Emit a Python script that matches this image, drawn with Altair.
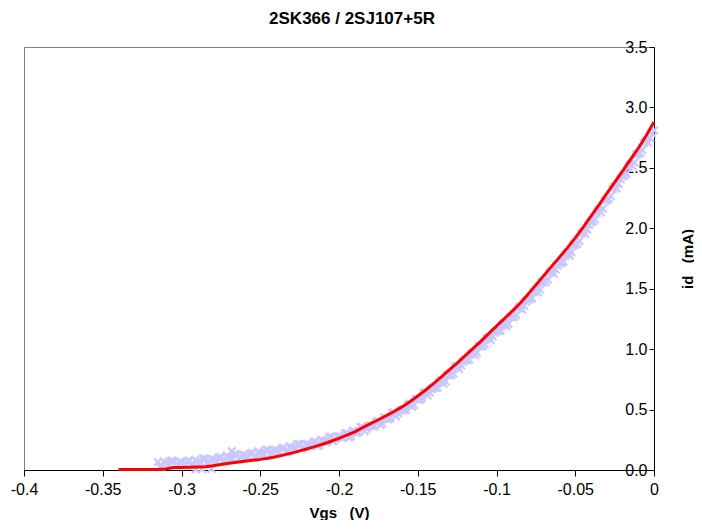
import altair as alt
import pandas as pd

# Measured points (blue x markers), first sweep
meas_vgs = [
    -0.3150, -0.3125, -0.3100, -0.3075, -0.3050, -0.3025, -0.3000, -0.2975, -0.2950, -0.2925,
    -0.2900, -0.2875, -0.2850, -0.2825, -0.2800, -0.2775, -0.2750, -0.2725, -0.2700, -0.2675,
    -0.2650, -0.2625, -0.2600, -0.2575, -0.2550, -0.2525, -0.2500, -0.2475, -0.2450, -0.2425,
    -0.2400, -0.2375, -0.2350, -0.2325, -0.2300, -0.2275, -0.2250, -0.2225, -0.2200, -0.2175,
    -0.2150, -0.2125, -0.2100, -0.2075, -0.2050, -0.2025, -0.2000, -0.1975, -0.1950, -0.1925,
    -0.1900, -0.1875, -0.1850, -0.1825, -0.1800, -0.1775, -0.1750, -0.1725, -0.1700, -0.1675,
    -0.1650, -0.1625, -0.1600, -0.1575, -0.1550, -0.1525, -0.1500, -0.1475, -0.1450, -0.1425,
    -0.1400, -0.1375, -0.1350, -0.1325, -0.1300, -0.1275, -0.1250, -0.1225, -0.1200, -0.1175,
    -0.1150, -0.1125, -0.1100, -0.1075, -0.1050, -0.1025, -0.1000, -0.0975, -0.0950, -0.0925,
    -0.0900, -0.0875, -0.0850, -0.0825, -0.0800, -0.0775, -0.0750, -0.0725, -0.0700, -0.0675,
    -0.0650, -0.0625, -0.0600, -0.0575, -0.0550, -0.0525, -0.0500, -0.0475, -0.0450, -0.0425,
    -0.0400, -0.0375, -0.0350, -0.0325, -0.0300, -0.0275, -0.0250, -0.0225, -0.0200, -0.0175,
    -0.0150, -0.0125, -0.0100, -0.0075, -0.0050, -0.0025, 0.0000,
    -0.2680, -0.2910, -0.2870, -0.2810,
]
meas_id = [
    0.065, 0.031, 0.057, 0.042, 0.073, 0.049, 0.065, 0.042, 0.075, 0.042,
    0.070, 0.059, 0.092, 0.071, 0.090, 0.070, 0.105, 0.075, 0.105, 0.094,
    0.128, 0.106, 0.125, 0.105, 0.140, 0.110, 0.140, 0.130, 0.165, 0.145,
    0.165, 0.146, 0.183, 0.154, 0.185, 0.176, 0.213, 0.194, 0.215, 0.198,
    0.235, 0.208, 0.240, 0.234, 0.273, 0.256, 0.280, 0.265, 0.305, 0.280,
    0.315, 0.313, 0.355, 0.343, 0.370, 0.360, 0.405, 0.385, 0.425, 0.428,
    0.475, 0.468, 0.500, 0.498, 0.550, 0.538, 0.585, 0.593, 0.645, 0.643,
    0.680, 0.683, 0.740, 0.733, 0.785, 0.800, 0.860, 0.865, 0.910, 0.915,
    0.975, 0.970, 1.025, 1.040, 1.100, 1.105, 1.150, 1.155, 1.215, 1.210,
    1.265, 1.285, 1.350, 1.360, 1.410, 1.423, 1.490, 1.493, 1.555, 1.578,
    1.645, 1.658, 1.710, 1.725, 1.795, 1.800, 1.865, 1.895, 1.970, 1.990,
    2.050, 2.073, 2.150, 2.163, 2.235, 2.268, 2.345, 2.368, 2.430, 2.453,
    2.530, 2.543, 2.615, 2.648, 2.725, 2.748, 2.810,
    0.155, 0.006, 0.008, 0.010,
]

# Measured points, second sweep
meas2_vgs = [
    -0.31375, -0.31125, -0.30875, -0.30625, -0.30375, -0.30125, -0.29875, -0.29625, -0.29375, -0.29125,
    -0.28875, -0.28625, -0.28375, -0.28125, -0.27875, -0.27625, -0.27375, -0.27125, -0.26875, -0.26625,
    -0.26375, -0.26125, -0.25875, -0.25625, -0.25375, -0.25125, -0.24875, -0.24625, -0.24375, -0.24125,
    -0.23875, -0.23625, -0.23375, -0.23125, -0.22875, -0.22625, -0.22375, -0.22125, -0.21875, -0.21625,
    -0.21375, -0.21125, -0.20875, -0.20625, -0.20375, -0.20125, -0.19875, -0.19625, -0.19375, -0.19125,
    -0.18875, -0.18625, -0.18375, -0.18125, -0.17875, -0.17625, -0.17375, -0.17125, -0.16875, -0.16625,
    -0.16375, -0.16125, -0.15875, -0.15625, -0.15375, -0.15125, -0.14875, -0.14625, -0.14375, -0.14125,
    -0.13875, -0.13625, -0.13375, -0.13125, -0.12875, -0.12625, -0.12375, -0.12125, -0.11875, -0.11625,
    -0.11375, -0.11125, -0.10875, -0.10625, -0.10375, -0.10125, -0.09875, -0.09625, -0.09375, -0.09125,
    -0.08875, -0.08625, -0.08375, -0.08125, -0.07875, -0.07625, -0.07375, -0.07125, -0.06875, -0.06625,
    -0.06375, -0.06125, -0.05875, -0.05625, -0.05375, -0.05125, -0.04875, -0.04625, -0.04375, -0.04125,
    -0.03875, -0.03625, -0.03375, -0.03125, -0.02875, -0.02625, -0.02375, -0.02125, -0.01875, -0.01625,
    -0.01375, -0.01125, -0.00875, -0.00625, -0.00375, -0.00125,
]
meas2_id = [
    0.026, 0.072, 0.042, 0.078, 0.034, 0.065, 0.051, 0.074, 0.036, 0.084,
    0.057, 0.096, 0.054, 0.088, 0.078, 0.103, 0.068, 0.118, 0.092, 0.131,
    0.090, 0.123, 0.113, 0.138, 0.103, 0.153, 0.128, 0.168, 0.128, 0.163,
    0.153, 0.180, 0.146, 0.197, 0.173, 0.215, 0.176, 0.212, 0.204, 0.232,
    0.199, 0.252, 0.230, 0.274, 0.237, 0.276, 0.270, 0.300, 0.270, 0.325,
    0.307, 0.354, 0.322, 0.364, 0.363, 0.398, 0.373, 0.433, 0.419, 0.472,
    0.444, 0.492, 0.497, 0.539, 0.522, 0.589, 0.582, 0.639, 0.617, 0.669,
    0.679, 0.727, 0.714, 0.787, 0.785, 0.850, 0.835, 0.895, 0.910, 0.960,
    0.950, 1.025, 1.025, 1.090, 1.075, 1.135, 1.150, 1.200, 1.190, 1.265,
    1.268, 1.338, 1.328, 1.393, 1.414, 1.472, 1.469, 1.552, 1.559, 1.632,
    1.624, 1.692, 1.715, 1.775, 1.775, 1.860, 1.873, 1.953, 1.953, 2.028,
    2.059, 2.127, 2.134, 2.227, 2.244, 2.327, 2.329, 2.407, 2.439, 2.507,
    2.514, 2.607, 2.624, 2.707, 2.709, 2.787,
]

# Red curve
fit_vgs = [
    -0.340, -0.335, -0.330, -0.325, -0.320, -0.315, -0.310, -0.305, -0.300, -0.295,
    -0.290, -0.285, -0.280, -0.275, -0.270, -0.265, -0.260, -0.255, -0.250, -0.245,
    -0.240, -0.235, -0.230, -0.225, -0.220, -0.215, -0.210, -0.205, -0.200, -0.195,
    -0.190, -0.185, -0.180, -0.175, -0.170, -0.165, -0.160, -0.155, -0.150, -0.145,
    -0.140, -0.135, -0.130, -0.125, -0.120, -0.115, -0.110, -0.105, -0.100, -0.095,
    -0.090, -0.085, -0.080, -0.075, -0.070, -0.065, -0.060, -0.055, -0.050, -0.045,
    -0.040, -0.035, -0.030, -0.025, -0.020, -0.015, -0.010, -0.005, 0.000,
]
fit_id = [
    0.005, 0.005, 0.005, 0.005, 0.005, 0.005, 0.008, 0.020, 0.021, 0.022,
    0.024, 0.027, 0.035, 0.045, 0.055, 0.064, 0.072, 0.080, 0.088, 0.098,
    0.110, 0.125, 0.140, 0.158, 0.176, 0.195, 0.215, 0.238, 0.262, 0.288,
    0.316, 0.350, 0.383, 0.416, 0.450, 0.484, 0.522, 0.565, 0.612, 0.662,
    0.715, 0.770, 0.828, 0.885, 0.945, 1.005, 1.065, 1.128, 1.190, 1.252,
    1.315, 1.380, 1.455, 1.530, 1.608, 1.685, 1.760, 1.838, 1.920, 2.008,
    2.100, 2.192, 2.288, 2.380, 2.472, 2.568, 2.662, 2.765, 2.880,
]

x_ticks = [-0.4, -0.35, -0.3, -0.25, -0.2, -0.15, -0.1, -0.05, 0.0]
y_ticks = [0.0, 0.5, 1.0, 1.5, 2.0, 2.5, 3.0, 3.5]

FONT = "Liberation Sans"
W, H = 630, 423

meas = pd.DataFrame({"Vgs": meas_vgs + meas2_vgs, "id": meas_id + meas2_id})
fit = pd.DataFrame({"Vgs": fit_vgs, "id": fit_id})

x_enc = alt.X(
    "Vgs:Q",
    scale=alt.Scale(domain=[-0.4, 0.0], nice=False, zero=False),
    axis=alt.Axis(
        values=x_ticks,
        labelExpr="datum.value == 0 ? '0' : '-' + format(-datum.value, '.2~f')",
        title="Vgs\u00a0\u00a0\u00a0(V)",
        titleFont=FONT, titleFontSize=15, titleFontWeight="bold", titleColor="black",
        titlePadding=8,
        labelFont=FONT, labelFontSize=16, labelColor="black", labelPadding=5,
        tickSize=6, tickColor="black", domainColor="black", grid=False,
        labelFlush=False, labelOverlap=False,
    ),
)
y_enc = alt.Y(
    "id:Q",
    scale=alt.Scale(domain=[0.0, 3.5], nice=False, zero=True),
    axis=alt.Axis(
        orient="left", offset=-W,
        values=y_ticks, format=".1f",
        title="id\u00a0\u00a0\u00a0(mA)",
        titleFont=FONT, titleFontSize=15, titleFontWeight="bold", titleColor="black",
        titleAngle=270, titleX=33, titleY=H / 2, titleAlign="center", titleBaseline="middle",
        labelFont=FONT, labelFontSize=16, labelColor="black", labelPadding=2,
        tickSize=5, tickColor="black", domainColor="black", grid=False,
        labelFlush=False, labelOverlap=False,
    ),
)

points = alt.Chart(meas).mark_point(
    shape="M-1,-1L1,1M-1,1L1,-1", filled=False, size=60, strokeWidth=2.2,
    color="#c8c8ff", opacity=1,
).encode(x=x_enc, y=y_enc)

line = alt.Chart(fit).mark_line(color="#ff0000", strokeWidth=3).encode(
    x=x_enc, y=y_enc, order="Vgs:Q"
)

chart = alt.layer(points, line).properties(
    width=W, height=H,
    title=alt.TitleParams(
        "2SK366 / 2SJ107+5R", font=FONT, fontSize=17, fontWeight="bold",
        color="black", anchor="middle", frame="group", dx=13, offset=11,
    ),
    autosize=alt.AutoSizeParams(type="none"),
    padding={"left": 16, "top": 39, "right": 40, "bottom": 50},
).configure_view(stroke="#808080", strokeWidth=1)

chart.save("out.html", embed_options={"renderer": "svg", "actions": False})
